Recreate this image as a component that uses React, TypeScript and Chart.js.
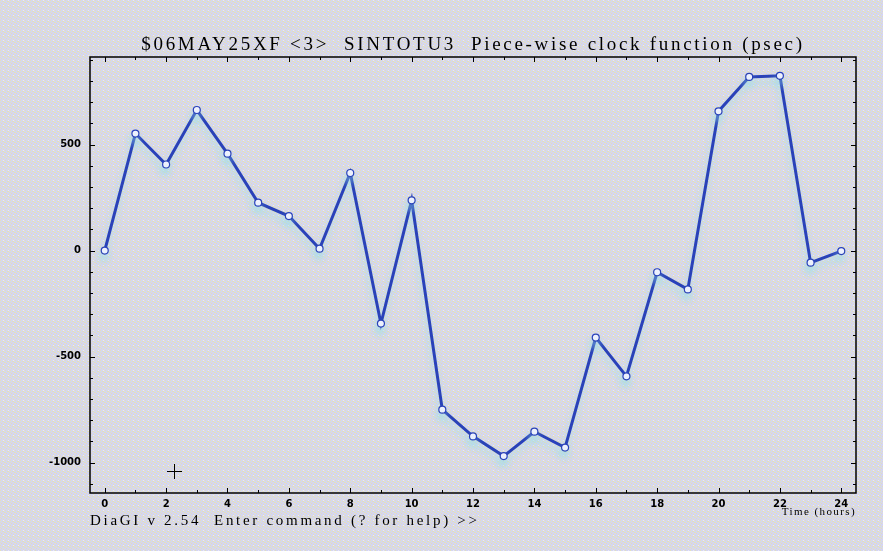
import { useEffect, useRef } from "react";
import { Chart, registerables } from "chart.js";

Chart.register(...registerables);

const hours = [0, 1, 2, 3, 4, 5, 6, 7, 8, 9, 10, 11, 12, 13, 14, 15, 16, 17, 18, 19, 20, 21, 22, 23, 24];
const clockPsec = [0, 552, 406, 663, 457, 226, 163, 9, 366, -344, 237, -750, -876, -969, -854, -929, -410, -593, -102, -183, 657, 819, 824, -57, -2];
const xTickLabels = [0, 2, 4, 6, 8, 10, 12, 14, 16, 18, 20, 22, 24];
const yTickLabels = [-1000, -500, 0, 500];
const titleText = "$06MAY25XF <3>  SINTOTU3  Piece-wise clock function (psec)";
const commandText = "DiaGI v 2.54  Enter command (? for help) >>";
const xAxisTitle = "Time (hours)";

const LINE = "#2a42b8";

// dithered lavender / yellow texture tile (style only)
const tileSvg =
  "<svg xmlns='http://www.w3.org/2000/svg' width='5' height='5' shape-rendering='crispEdges'>" +
  "<rect width='5' height='5' fill='#d4d4f4'/>" +
  "<rect x='0' y='0' width='1' height='1' fill='#e6e6b0'/>" +
  "<rect x='2' y='1' width='1' height='1' fill='#e4e4b4'/>" +
  "<rect x='4' y='2' width='1' height='1' fill='#e8e8ac'/>" +
  "<rect x='1' y='3' width='1' height='1' fill='#e4e4b2'/>" +
  "<rect x='3' y='4' width='1' height='1' fill='#e6e6ae'/>" +
  "<rect x='3' y='1' width='1' height='1' fill='#e0e0bc'/>" +
  "<rect x='3' y='0' width='1' height='1' fill='#eaeaf4'/>" +
  "<rect x='0' y='2' width='1' height='1' fill='#e2e2c0'/>" +
  "</svg>";
const tileUrl = `url("data:image/svg+xml;utf8,${encodeURIComponent(tileSvg)}")`;

const framePlugin = {
  id: "frameTicks",
  beforeDatasetsDraw(chart: any) {
    const { ctx, chartArea } = chart;
    const { left, right, top, bottom } = chartArea;
    const x = chart.scales.x;
    const y = chart.scales.y;
    ctx.save();
    ctx.strokeStyle = "#000";
    ctx.lineWidth = 1.5;
    ctx.strokeRect(left, top, right - left, bottom - top);
    ctx.lineWidth = 1;
    ctx.beginPath();
    for (let v = Math.ceil(x.min); v <= Math.floor(x.max); v++) {
      const px = Math.round(x.getPixelForValue(v)) + 0.5;
      const len = v % 2 === 0 ? 5 : 3;
      ctx.moveTo(px, bottom);
      ctx.lineTo(px, bottom - len);
      ctx.moveTo(px, top);
      ctx.lineTo(px, top + len);
    }
    for (let v = Math.ceil(y.min / 100) * 100; v <= y.max; v += 100) {
      const py = Math.round(y.getPixelForValue(v)) + 0.5;
      const len = v % 500 === 0 ? 5 : 3;
      ctx.moveTo(left, py);
      ctx.lineTo(left + len, py);
      ctx.moveTo(right, py);
      ctx.lineTo(right - len, py);
    }
    ctx.stroke();
    ctx.restore();
  },
};

const glowPlugin = {
  id: "glow",
  beforeDatasetDraw(chart: any) {
    const ctx = chart.ctx;
    ctx.save();
    ctx.shadowColor = "rgba(150, 225, 230, 0.65)";
    ctx.shadowBlur = 7;
    ctx.shadowOffsetX = -1;
    ctx.shadowOffsetY = 6;
  },
  afterDatasetDraw(chart: any) {
    chart.ctx.restore();
  },
};

export default function App() {
  const canvasRef = useRef<HTMLCanvasElement | null>(null);

  useEffect(() => {
    if (!canvasRef.current) return;
    const tickFont = { family: "DejaVu Sans", size: 10, weight: "bold" as const };
    const chart = new Chart(canvasRef.current, {
      type: "line",
      data: {
        datasets: [
          {
            data: hours.map((h, i) => ({ x: h, y: clockPsec[i] })),
            borderColor: LINE,
            borderWidth: 3,
            pointRadius: 3.5,
            pointBackgroundColor: "#f2f2ff",
            pointBorderColor: LINE,
            pointBorderWidth: 1.2,
            tension: 0,
            fill: false,
          },
        ],
      },
      options: {
        animation: false,
        responsive: false,
        maintainAspectRatio: false,
        layout: { padding: { top: 57, right: 27, left: 0, bottom: 0 } },
        plugins: {
          legend: { display: false },
          title: { display: false },
          tooltip: { enabled: false },
        },
        scales: {
          x: {
            type: "linear",
            min: -0.48,
            max: 24.48,
            grid: { display: false, drawTicks: false },
            border: { display: false },
            ticks: {
              color: "#000",
              font: tickFont,
              padding: 5,
              maxRotation: 0,
              autoSkip: false,
              callback: (v: any) => String(v),
            },
            afterBuildTicks: (s: any) => {
              s.ticks = xTickLabels.map((v) => ({ value: v }));
            },
            afterFit: (s: any) => {
              s.height = 58;
            },
          },
          y: {
            type: "linear",
            min: -1143,
            max: 913,
            grid: { display: false, drawTicks: false },
            border: { display: false },
            ticks: {
              color: "#000",
              font: tickFont,
              padding: 9,
              autoSkip: false,
              callback: (v: any) => String(v),
            },
            afterBuildTicks: (s: any) => {
              s.ticks = yTickLabels.map((v) => ({ value: v }));
            },
            afterFit: (s: any) => {
              s.width = 90;
            },
          },
        },
      },
      plugins: [framePlugin, glowPlugin],
    });
    return () => chart.destroy();
  }, []);

  const serif = "'Liberation Serif', 'DejaVu Serif', serif";

  return (
    <div
      style={{
        position: "fixed",
        left: 0,
        top: 0,
        width: 883,
        height: 551,
        backgroundColor: "#d8d8e8",
        backgroundImage: tileUrl,
        backgroundRepeat: "repeat",
        overflow: "hidden",
      }}
    >
      <canvas ref={canvasRef} width={883} height={551} style={{ position: "absolute", left: 0, top: 0, width: 883, height: 551 }} />
      <div
        style={{
          position: "absolute",
          left: 90,
          width: 766,
          top: 34,
          lineHeight: "20px",
          textAlign: "center",
          fontFamily: serif,
          fontSize: 19,
          letterSpacing: "2.7px",
          whiteSpace: "pre",
          color: "#000",
        }}
      >
        {titleText}
      </div>
      <div
        style={{
          position: "absolute",
          left: 90,
          top: 511,
          lineHeight: "18px",
          fontFamily: serif,
          fontSize: 15,
          letterSpacing: "2.7px",
          whiteSpace: "pre",
          color: "#000",
        }}
      >
        {commandText}
      </div>
      <div
        style={{
          position: "absolute",
          right: 27,
          top: 505,
          lineHeight: "12px",
          fontFamily: serif,
          fontSize: 11,
          letterSpacing: "1.4px",
          whiteSpace: "pre",
          color: "#000",
          textAlign: "right",
        }}
      >
        {xAxisTitle}
      </div>
      <div style={{ position: "absolute", left: 167, top: 471, width: 15, height: 1, background: "#000" }} />
      <div style={{ position: "absolute", left: 174, top: 464, width: 1, height: 15, background: "#000" }} />
    </div>
  );
}
